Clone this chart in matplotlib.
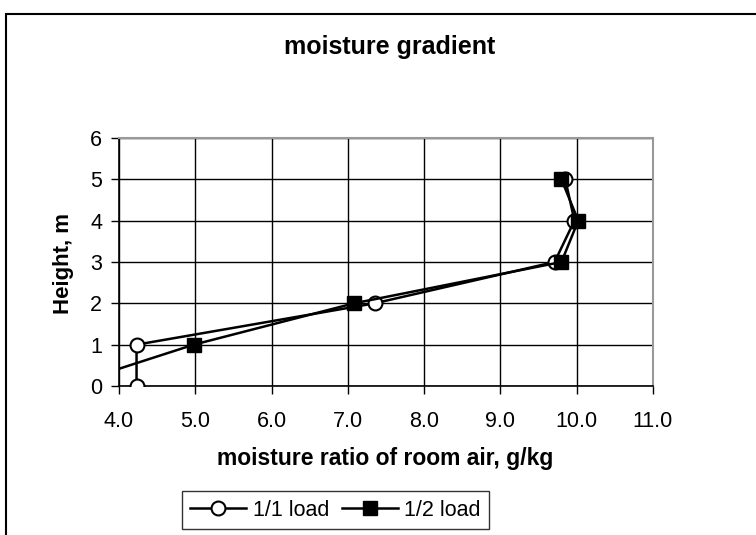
import matplotlib
matplotlib.use("Agg")
import matplotlib.pyplot as plt
from matplotlib.patches import Rectangle
from matplotlib.lines import Line2D

plt.rcParams['font.family'] = ['Liberation Sans', 'DejaVu Sans']

heights = [0, 1, 2, 3, 4, 5]
full_load = [4.23, 4.23, 7.35, 9.71, 9.97, 9.85]
half_load = [3.3, 4.98, 7.08, 9.80, 10.02, 9.80]
series_names = ["1/1 load", "1/2 load"]
x_ticks = [4.0, 5.0, 6.0, 7.0, 8.0, 9.0, 10.0, 11.0]
y_ticks = [0, 1, 2, 3, 4, 5, 6]

W, H = 756, 535
fig = plt.figure(figsize=(W / 100, H / 100), dpi=100)

# outer chart frame (extends beyond image on right/bottom)
fig.patches.append(Rectangle((6 / W, -0.05), 1.1, (H - 14) / H + 0.05,
                             transform=fig.transFigure, fill=False,
                             edgecolor='black', linewidth=1.5))

ax = fig.add_axes([119 / W, (H - 386) / H, (653 - 119) / W, (386 - 138) / H])

ax.plot(full_load, heights, color='black', lw=1.8, marker='o', markersize=10,
        markerfacecolor='white', markeredgecolor='black', markeredgewidth=1.5,
        label=series_names[0], zorder=3)
ax.plot(half_load, heights, color='black', lw=1.8, marker='s', markersize=9.5,
        markerfacecolor='black', markeredgecolor='black',
        label=series_names[1], zorder=4)

ax.set_xlim(4.0, 11.0)
ax.set_ylim(0, 6)
ax.set_xticks(x_ticks)
ax.set_xticklabels([f"{v:.1f}" for v in x_ticks])
ax.set_yticks(y_ticks)
ax.set_yticklabels([str(v) for v in y_ticks])
ax.grid(True, color='black', lw=1.0)
ax.set_axisbelow(True)

for s in ['top', 'right']:
    ax.spines[s].set_color('#999999')
    ax.spines[s].set_linewidth(1.5)
for s in ['left', 'bottom']:
    ax.spines[s].set_color('black')
    ax.spines[s].set_linewidth(1.2)

ax.tick_params(axis='both', direction='out', length=6, width=1,
               labelsize=15.5, color='black')
ax.tick_params(axis='x', pad=12)
ax.tick_params(axis='y', pad=6)

fig.text(390 / W, 1 - 47 / H, "moisture gradient", ha='center', va='center',
         fontsize=18, fontweight='bold')
fig.text(385 / W, 1 - 459 / H, "moisture ratio of room air, g/kg",
         ha='center', va='center', fontsize=16.5, fontweight='bold')
fig.text(63 / W, 1 - 264 / H, "Height, m", ha='center', va='center',
         rotation=90, fontsize=16, fontweight='bold')

handles = [
    Line2D([], [], color='black', lw=1.8, marker='o', markersize=10,
           markerfacecolor='white', markeredgecolor='black', markeredgewidth=1.5),
    Line2D([], [], color='black', lw=1.8, marker='s', markersize=9.5,
           markerfacecolor='black', markeredgecolor='black'),
]
leg = fig.legend(handles, series_names, loc='center', ncol=2,
                 bbox_to_anchor=(335.5 / W, 1 - 510 / H),
                 bbox_transform=fig.transFigure, fontsize=15.5, frameon=True,
                 fancybox=False, edgecolor='black', handlelength=2.6,
                 handletextpad=0.3, columnspacing=0.6, borderpad=0.4,
                 borderaxespad=0)
leg.get_frame().set_linewidth(1.0)

fig.savefig("out.png", dpi=100)
